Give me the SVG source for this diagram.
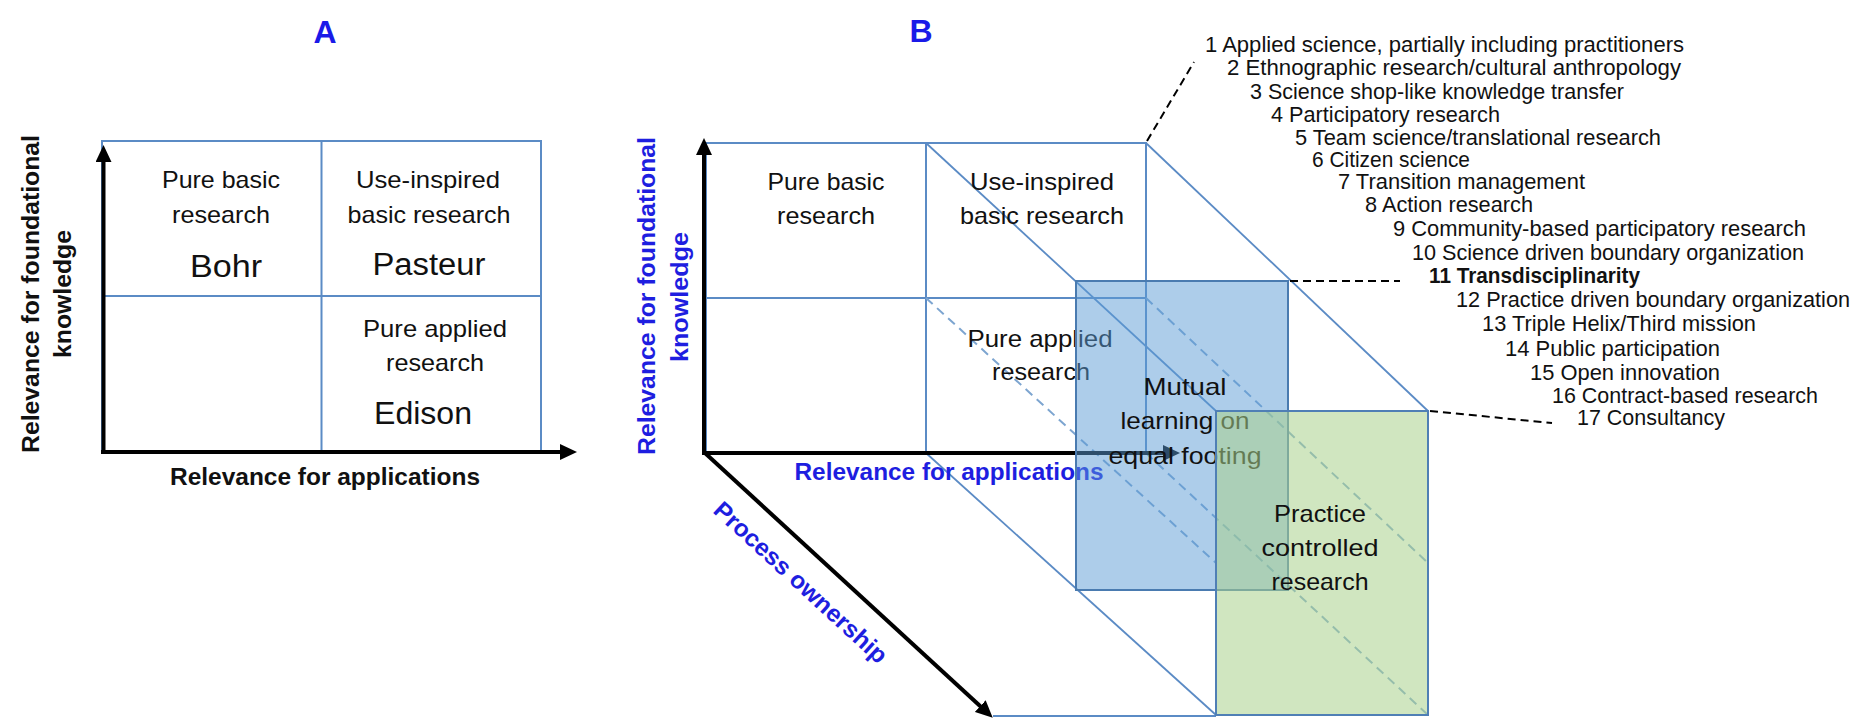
<svg xmlns="http://www.w3.org/2000/svg" width="1855" height="718" viewBox="0 0 1855 718">
<style>
text{font-family:"Liberation Sans",Arial,sans-serif;fill:#111}
.q{font-size:24px;text-anchor:middle}
.big{font-size:31px;text-anchor:middle}
.lab{font-size:24px;font-weight:bold;text-anchor:middle}
.blue{fill:#1e1ee0}
.title{font-size:32px;font-weight:bold;text-anchor:middle;fill:#1a1ae8}
.li{font-size:21.5px}
.grid{fill:none;stroke:#5b8bc5;stroke-width:2}
.diag{fill:none;stroke:#5b8bc5;stroke-width:1.8}
.dash{fill:none;stroke:#7da5d0;stroke-width:2;stroke-dasharray:9 6}
.axis{stroke:#000;stroke-width:4;fill:none}
.lead{stroke:#000;stroke-width:2;stroke-dasharray:8 5;fill:none}
</style>
<defs>
<marker id="ah" viewBox="0 0 17 16" markerWidth="17" markerHeight="16" refX="2" refY="8" orient="auto" markerUnits="userSpaceOnUse">
<path d="M0,0 L17,8 L0,16 z" fill="#000"/>
</marker>
</defs>
<rect width="1855" height="718" fill="#fff"/>

<!-- Panel A -->
<g id="panelA">
<text class="title" x="325" y="43">A</text>
<g id="A-frame">
<rect class="grid" x="102" y="141" width="439" height="311"/>
<line class="grid" x1="321.5" y1="141" x2="321.5" y2="452"/>
<line class="grid" x1="102" y1="296" x2="541" y2="296"/>
</g>
<g id="A-q1">
<text class="q" x="221" y="188" textLength="118" lengthAdjust="spacingAndGlyphs">Pure basic</text>
<text class="q" x="221" y="223" textLength="98" lengthAdjust="spacingAndGlyphs">research</text>
<text class="big" x="226" y="277" textLength="72" lengthAdjust="spacingAndGlyphs">Bohr</text>
</g>
<g id="A-q2">
<text class="q" x="428" y="188" textLength="144" lengthAdjust="spacingAndGlyphs">Use-inspired</text>
<text class="q" x="429" y="223" textLength="163" lengthAdjust="spacingAndGlyphs">basic research</text>
<text class="big" x="429" y="275" textLength="113" lengthAdjust="spacingAndGlyphs">Pasteur</text>
</g>
<g id="A-q3">
<text class="q" x="435" y="337" textLength="144" lengthAdjust="spacingAndGlyphs">Pure applied</text>
<text class="q" x="435" y="371" textLength="98" lengthAdjust="spacingAndGlyphs">research</text>
<text class="big" x="423" y="424" textLength="98" lengthAdjust="spacingAndGlyphs">Edison</text>
</g>
<g id="A-labels">
<text class="lab" x="325" y="485" textLength="310" lengthAdjust="spacingAndGlyphs">Relevance for applications</text>
<text class="lab" transform="translate(39,294) rotate(-90)" textLength="318" lengthAdjust="spacingAndGlyphs">Relevance for foundational</text>
<text class="lab" transform="translate(71,294) rotate(-90)" textLength="128" lengthAdjust="spacingAndGlyphs">knowledge</text>
</g>
</g>

<!-- Panel B -->
<g id="panelB">
<text class="title" x="921" y="42">B</text>
<g id="B-frame">
<rect class="grid" x="706" y="143" width="440" height="310"/>
<line class="grid" x1="926" y1="143" x2="926" y2="453"/>
<line class="grid" x1="706" y1="298" x2="1146" y2="298"/>
<line class="diag" x1="926" y1="143" x2="1216" y2="411"/>
<line class="diag" x1="1146" y1="143" x2="1428" y2="411"/>
<line class="diag" x1="926" y1="453" x2="1216" y2="715"/>
<line class="diag" x1="993" y1="716" x2="1216" y2="716"/>
<line class="dash" x1="926" y1="298" x2="1216" y2="563"/>
<line class="dash" x1="1146" y1="298" x2="1428" y2="563"/>
<line class="dash" x1="1146" y1="453" x2="1428" y2="715"/>
</g>
<g id="connectors">
<line class="axis" x1="103.5" y1="454" x2="103.5" y2="160" stroke-width="3.5" marker-end="url(#ah)"/>
<line class="axis" x1="101" y1="452" x2="562" y2="452" stroke-width="3.5" marker-end="url(#ah)"/>
<line class="axis" x1="704" y1="455" x2="704" y2="153" marker-end="url(#ah)"/>
<line class="axis" x1="702" y1="453" x2="1165" y2="453" marker-end="url(#ah)"/>
<line class="axis" x1="705" y1="453" x2="981.7" y2="707.5" marker-end="url(#ah)"/>
<line class="lead" x1="1147" y1="141" x2="1194" y2="62"/>
<line class="lead" x1="1290" y1="281" x2="1400" y2="281"/>
<line class="lead" x1="1430" y1="411" x2="1552" y2="423"/>
</g>
<g id="B-q1">
<text class="q" x="826" y="190" textLength="117" lengthAdjust="spacingAndGlyphs">Pure basic</text>
<text class="q" x="826" y="224" textLength="98" lengthAdjust="spacingAndGlyphs">research</text>
</g>
<g id="B-q2">
<text class="q" x="1042" y="190" textLength="144" lengthAdjust="spacingAndGlyphs">Use-inspired</text>
<text class="q" x="1042" y="224" textLength="164" lengthAdjust="spacingAndGlyphs">basic research</text>
</g>
<g id="B-q3">
<text class="q" x="1040" y="347" textLength="145" lengthAdjust="spacingAndGlyphs">Pure applied</text>
<text class="q" x="1041" y="380" textLength="98" lengthAdjust="spacingAndGlyphs">research</text>
</g>
<g id="B-labels">
<text class="lab blue" x="949" y="480" textLength="309" lengthAdjust="spacingAndGlyphs">Relevance for applications</text>
<text class="lab blue" transform="translate(655,296) rotate(-90)" textLength="318" lengthAdjust="spacingAndGlyphs">Relevance for foundational</text>
<text class="lab blue" transform="translate(688,297) rotate(-90)" textLength="130" lengthAdjust="spacingAndGlyphs">knowledge</text>
<text class="lab blue" style="text-anchor:start" transform="translate(712,512) rotate(42.6)" textLength="226" lengthAdjust="spacingAndGlyphs">Process ownership</text>
</g>
<g id="mutual">
<rect x="1076" y="281" width="212" height="309" fill="#5b9bd5" fill-opacity="0.5" stroke="#4a7bb0" stroke-width="2"/>
<text class="q" x="1185" y="395" textLength="83" lengthAdjust="spacingAndGlyphs">Mutual</text>
<text class="q" x="1185" y="429" textLength="129" lengthAdjust="spacingAndGlyphs">learning on</text>
<text class="q" x="1185" y="464" textLength="153" lengthAdjust="spacingAndGlyphs">equal footing</text>
</g>
<g id="practice">
<rect x="1216" y="411" width="212" height="304" fill="#aad28c" fill-opacity="0.55" stroke="#4f7fb5" stroke-width="2"/>
<text class="q" x="1320" y="522" textLength="92" lengthAdjust="spacingAndGlyphs">Practice</text>
<text class="q" x="1320" y="556" textLength="117" lengthAdjust="spacingAndGlyphs">controlled</text>
<text class="q" x="1320" y="590" textLength="97" lengthAdjust="spacingAndGlyphs">research</text>
</g>
</g>

<!-- List -->
<g id="list">
<text class="li" x="1205" y="52" textLength="479" lengthAdjust="spacingAndGlyphs">1 Applied science, partially including practitioners</text>
<text class="li" x="1227" y="75" textLength="454" lengthAdjust="spacingAndGlyphs">2 Ethnographic research/cultural anthropology</text>
<text class="li" x="1250" y="99" textLength="374" lengthAdjust="spacingAndGlyphs">3 Science shop-like knowledge transfer</text>
<text class="li" x="1271" y="122" textLength="229" lengthAdjust="spacingAndGlyphs">4 Participatory research</text>
<text class="li" x="1295" y="145" textLength="366" lengthAdjust="spacingAndGlyphs">5 Team science/translational research</text>
<text class="li" x="1312" y="167" textLength="158" lengthAdjust="spacingAndGlyphs">6 Citizen science</text>
<text class="li" x="1338" y="189" textLength="247" lengthAdjust="spacingAndGlyphs">7 Transition management</text>
<text class="li" x="1365" y="212" textLength="168" lengthAdjust="spacingAndGlyphs">8 Action research</text>
<text class="li" x="1393" y="236" textLength="413" lengthAdjust="spacingAndGlyphs">9 Community-based participatory research</text>
<text class="li" x="1412" y="260" textLength="392" lengthAdjust="spacingAndGlyphs">10 Science driven boundary organization</text>
<text class="li" x="1429" y="283" font-weight="bold" textLength="211" lengthAdjust="spacingAndGlyphs">11 Transdisciplinarity</text>
<text class="li" x="1456" y="307" textLength="394" lengthAdjust="spacingAndGlyphs">12 Practice driven boundary organization</text>
<text class="li" x="1482" y="331" textLength="274" lengthAdjust="spacingAndGlyphs">13 Triple Helix/Third mission</text>
<text class="li" x="1505" y="356" textLength="215" lengthAdjust="spacingAndGlyphs">14 Public participation</text>
<text class="li" x="1530" y="380" textLength="190" lengthAdjust="spacingAndGlyphs">15 Open innovation</text>
<text class="li" x="1552" y="403" textLength="266" lengthAdjust="spacingAndGlyphs">16 Contract-based research</text>
<text class="li" x="1577" y="425" textLength="148" lengthAdjust="spacingAndGlyphs">17 Consultancy</text>
</g>
</svg>
